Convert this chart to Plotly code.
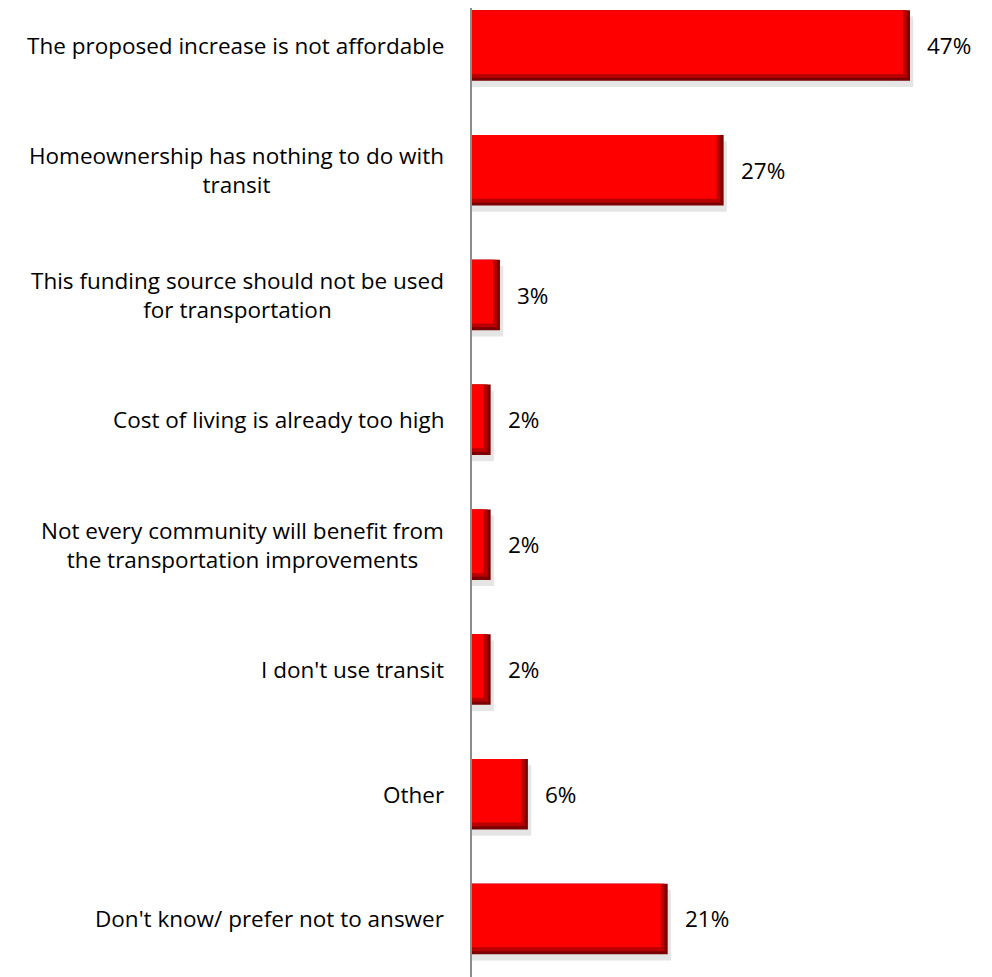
import plotly.graph_objects as go

categories = [
    "The proposed increase is not affordable",
    "Homeownership has nothing to do with<br>transit",
    "This funding source should not be used<br>for transportation",
    "Cost of living is already too high",
    "Not every community will benefit from<br>the transportation improvements",
    "I don't use transit",
    "Other",
    "Don't know/ prefer not to answer",
]
values = [47, 27, 3, 2, 2, 2, 6, 21]
value_labels = ["47%", "27%", "3%", "2%", "2%", "2%", "6%", "21%"]

FONT = "Open Sans"
FSIZE = 22.5
W = 0.565          # bar thickness in category units
EDGE_Y = 0.055     # bevel thickness (vertical) in category units
EDGE_X = 0.75      # bevel thickness (horizontal) in % units

fig = go.Figure()

# soft shadow
fig.add_trace(go.Bar(
    y=categories, x=[v + 0.35 for v in values], orientation="h",
    width=W, offset=-W / 2 + 0.05,
    marker=dict(color="rgba(0,0,0,0.10)", line=dict(width=0)),
    hoverinfo="skip", showlegend=False,
))
# dark bevel base
fig.add_trace(go.Bar(
    y=categories, x=values, orientation="h",
    width=W, offset=-W / 2,
    marker=dict(color="#7a0000", line=dict(width=0)),
    hoverinfo="skip", showlegend=False,
))
# mid bevel
fig.add_trace(go.Bar(
    y=categories, x=[v - EDGE_X * 0.45 for v in values], orientation="h",
    width=W - EDGE_Y * 0.45, offset=-W / 2,
    marker=dict(color="#b80000", line=dict(width=0)),
    hoverinfo="skip", showlegend=False,
))
# bright face
fig.add_trace(go.Bar(
    y=categories, x=[v - EDGE_X for v in values], orientation="h",
    width=W - EDGE_Y, offset=-W / 2,
    marker=dict(color="#ff0000", line=dict(width=0)),
    name="Share", showlegend=False,
))

annotations = []
for c, v, t in zip(categories, values, value_labels):
    annotations.append(dict(
        x=v, y=c, xref="x", yref="y", text=t, showarrow=False,
        xanchor="left", yanchor="middle", xshift=15,
        font=dict(family=FONT, size=FSIZE, color="#000000"),
    ))
    annotations.append(dict(
        x=0, y=c, xref="paper", yref="y", text=c, showarrow=False,
        xanchor="right", yanchor="middle", xshift=-26, align="center",
        font=dict(family=FONT, size=FSIZE, color="#000000"),
    ))

fig.update_layout(
    width=984, height=969,
    margin=dict(l=464, r=0, t=0, b=0),
    paper_bgcolor="white", plot_bgcolor="white",
    barmode="overlay",
    showlegend=False,
    annotations=annotations,
    xaxis=dict(range=[0, 55.8], showgrid=False, zeroline=False,
               showticklabels=False, ticks="", showline=False),
    yaxis=dict(type="category", categoryorder="array", categoryarray=categories,
               range=[7.465, -0.3005], showgrid=False, zeroline=False,
               showticklabels=False, ticks="",
               showline=True, linecolor="#8c8c8c", linewidth=2),
)

fig.write_html("out.html")
